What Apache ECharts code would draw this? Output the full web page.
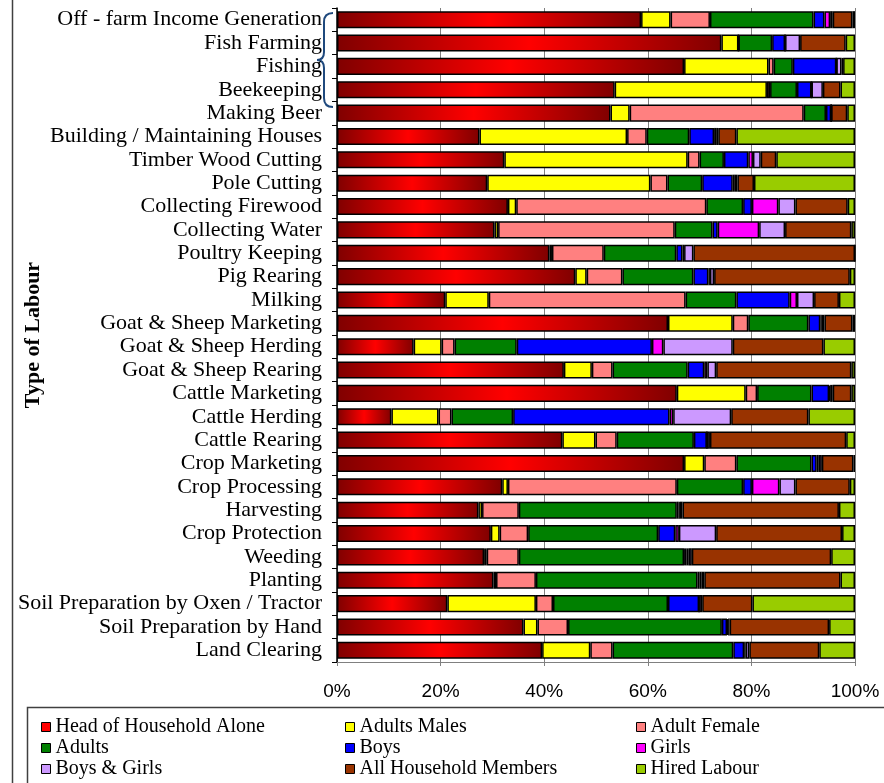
<!DOCTYPE html>
<html>
<head>
<meta charset="utf-8">
<script src="https://cdn.jsdelivr.net/npm/echarts@6/dist/echarts.min.js"></script>
<style>html,body{margin:0;padding:0;background:#fff;}#c{width:884px;height:783px;}</style>
</head>
<body>
<div id="c"></div>
<script>
const categories = ["Off - farm Income Generation","Fish Farming","Fishing","Beekeeping","Making Beer","Building / Maintaining Houses","Timber Wood Cutting","Pole Cutting","Collecting Firewood","Collecting Water","Poultry Keeping","Pig Rearing","Milking","Goat & Sheep Marketing","Goat & Sheep Herding","Goat & Sheep Rearing","Cattle Marketing","Cattle Herding","Cattle Rearing","Crop Marketing","Crop Processing","Harvesting","Crop Protection","Weeding","Planting","Soil Preparation by Oxen / Tractor","Soil Preparation by Hand","Land Clearing"];
const seriesNames = ["Head of Household Alone","Adults Males","Adult Female","Adults","Boys","Girls","Boys & Girls","All Household Members","Hired Labour"];
const headAlone = [58.7,74.2,67.0,53.6,52.8,27.5,32.3,29.0,33.0,30.4,41.0,46.0,20.9,63.9,14.8,43.8,65.6,10.5,43.5,67.0,31.9,27.3,29.7,28.4,30.2,21.3,36.0,39.6];
const adultMales = [5.7,3.3,16.3,29.4,3.7,28.5,35.4,31.5,1.6,0.7,0.5,2.2,8.4,12.5,5.4,5.4,13.3,9.1,6.4,3.9,1.1,0.7,1.7,0.5,0.5,17.1,2.7,9.3];
const adultFemale = [7.6,0,1.0,0.6,33.6,3.8,2.3,3.3,36.7,34.1,10.0,6.9,38.0,3.0,2.5,4.0,2.2,2.5,4.1,6.2,32.6,7.1,5.5,6.2,7.7,3.3,5.9,4.3];
const adults = [20.0,6.5,3.7,5.2,4.3,8.2,4.7,6.7,7.1,7.3,14.0,13.7,9.8,11.6,12.0,14.5,10.5,11.9,14.9,14.5,12.8,30.5,25.1,31.9,31.2,22.2,29.7,23.3];
const boys = [2.1,2.5,8.4,2.8,1.0,4.8,4.7,5.9,1.7,1.0,1.2,2.9,10.3,2.3,26.1,3.2,3.4,30.2,2.5,1.0,1.7,0.3,3.3,0.5,0.4,6.0,1.0,2.1];
const girls = [1.1,0,0,0,0,0.4,0.9,0.4,5.1,8.0,0.3,0.3,1.4,0.3,2.2,0.6,0.2,0.7,0,0.4,5.3,0.3,0.7,0.4,0.4,0,0.2,0.3];
const boysGirls = [0.5,2.9,1.0,2.2,0,0.4,1.5,0.5,3.3,5.0,1.8,0.8,3.3,0.5,13.4,1.7,0.5,11.2,0.6,0.6,3.1,0.5,7.2,0.6,0.5,0.6,0.3,0.7];
const allHousehold = [3.8,8.8,0.3,3.4,3.1,3.5,3.0,3.2,10.1,12.8,31.2,26.2,4.8,5.4,17.5,26.1,3.6,14.9,26.3,6.1,10.5,30.2,24.3,26.9,26.3,9.7,19.2,13.5];
const hiredLabour = [0.5,1.8,2.3,2.8,1.5,22.9,15.2,19.5,1.4,0.7,0,1.0,3.1,0.5,6.1,0.7,0.7,9.0,1.7,0.3,1.0,3.1,2.5,4.6,2.8,19.8,5.0,6.9];
const xTicks = [0,20,40,60,80,100];

const values = [headAlone, adultMales, adultFemale, adults, boys, girls, boysGirls, allHousehold, hiredLabour];
const colors = ['#FF0000','#FFFF00','#FF8080','#008000','#0000FF','#FF00FF','#CC99FF','#993300','#99CC00'];
const redGrad = {type:'linear', x:0, y:0, x2:1, y2:0, global:false, colorStops:[
  {offset:0,color:'#800000'},{offset:0.5,color:'#FF0000'},{offset:1,color:'#800000'}]};

const chart = echarts.init(document.getElementById('c'), null, {renderer:'canvas'});
const series = seriesNames.map((n,i)=>({
  name:n, type:'bar', stack:'total', barWidth:'73%',
  data: values[i],
  itemStyle:{color: i===0 ? redGrad : colors[i], borderColor:'#000', borderWidth:1.5},
  emphasis:{disabled:true}
}));
// legend: 3 columns x 3 rows, one legend component per entry
const colLeft = [36, 340, 631];
const rowCenter = [722, 743, 764];
const legends = seriesNames.map((n,i)=>({
  left: colLeft[i%3], top: rowCenter[Math.floor(i/3)] - 10,
  itemWidth:9, itemHeight:9, icon:'rect', selectedMode:false,
  textStyle:{fontFamily:'Liberation Serif', fontSize:20, lineHeight:20, color:'#000'},
  data:[{name:n, itemStyle:{color:colors[i], borderColor:'#000', borderWidth:1}}]
}));
const braceStyle = {fill:'none', stroke:'#1F497D', lineWidth:2};
chart.setOption({
  animation:false,
  backgroundColor:'#fff',
  grid:{left:337, right:29, top:8, height:654, containLabel:false, outerBoundsMode:'none'},
  xAxis:{type:'value', min:xTicks[0], max:xTicks[xTicks.length-1], interval:20,
    axisLabel:{formatter:v=>v+'%', fontFamily:'Liberation Sans', fontSize:19, color:'#000', margin:20},
    axisLine:{show:true, lineStyle:{color:'#808080', width:1}},
    axisTick:{show:true, length:4, lineStyle:{color:'#808080'}},
    splitLine:{show:true, lineStyle:{color:'#808080', width:1}}
  },
  yAxis:{type:'category', data:categories, inverse:true,
    name:'Type of Labour', nameLocation:'middle', nameGap:293, nameRotate:90, nameMoveOverlap:false,
    nameTextStyle:{fontFamily:'Liberation Serif', fontWeight:'bold', fontSize:22, color:'#000'},
    axisLabel:{interval:0, fontFamily:'Liberation Serif', fontSize:22, color:'#000', margin:15},
    axisLine:{show:true, lineStyle:{color:'#000', width:1.5}},
    axisTick:{show:true, length:5, lineStyle:{color:'#000'}}
  },
  legend:legends,
  graphic:[
    {type:'line', shape:{x1:12.5,y1:0,x2:12.5,y2:783}, style:{stroke:'#404040', lineWidth:1.5}, silent:true},
    {type:'rect', shape:{x:27.5,y:707.5,width:900,height:100}, style:{fill:'none', stroke:'#404040', lineWidth:1.5}, silent:true},
    {type:'bezierCurve', shape:{x1:333,y1:13,cpx1:324,cpy1:13,x2:324,y2:22}, style:braceStyle, silent:true},
    {type:'line', shape:{x1:324,y1:22,x2:324,y2:52}, style:braceStyle, silent:true},
    {type:'bezierCurve', shape:{x1:324,y1:52,cpx1:324,cpy1:60,x2:317,y2:60}, style:braceStyle, silent:true},
    {type:'bezierCurve', shape:{x1:317,y1:60,cpx1:324,cpy1:60,x2:324,y2:68}, style:braceStyle, silent:true},
    {type:'line', shape:{x1:324,y1:68,x2:324,y2:98}, style:braceStyle, silent:true},
    {type:'bezierCurve', shape:{x1:324,y1:98,cpx1:324,cpy1:107,x2:333,y2:107}, style:braceStyle, silent:true}
  ],
  series:series
});
</script>
</body>
</html>
